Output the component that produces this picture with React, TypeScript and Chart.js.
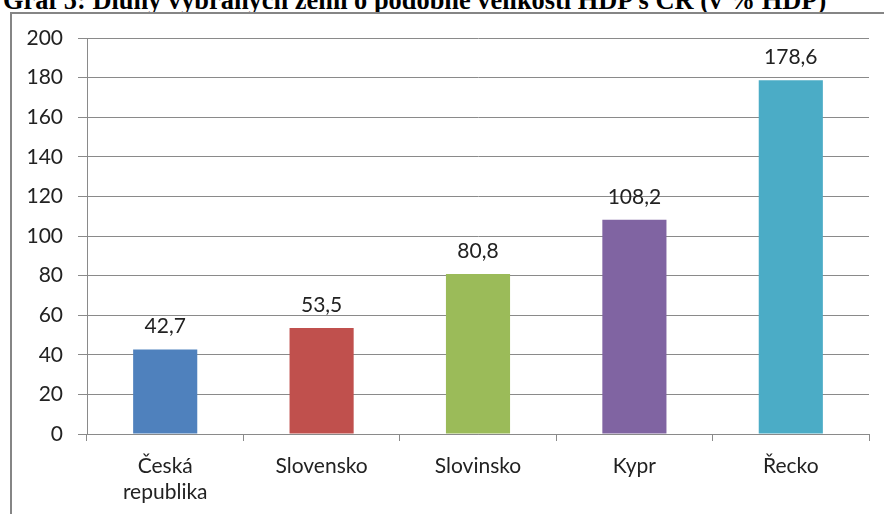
import React, { useEffect, useRef } from "react";
import { Chart, registerables } from "chart.js";

Chart.register(...registerables);

const titleText = "Graf 5: Dluhy vybraných zemí o podobné velikosti HDP s ČR (v % HDP)";
const categories: (string | string[])[] = [["Česká", "republika"], "Slovensko", "Slovinsko", "Kypr", "Řecko"];
const values = [42.7, 53.5, 80.8, 108.2, 178.6];
const valueLabels = ["42,7", "53,5", "80,8", "108,2", "178,6"];
const barColors = ["#4F81BD", "#C0504D", "#9BBB59", "#8064A2", "#4BACC6"];

const FONT = "Lato, 'Open Sans', sans-serif";
const FONT_SIZE = 21;
const TEXT_COLOR = "#222222";
const GRID_COLOR = "#8a8a8a";

const labelPlugin = {
  id: "valueLabels",
  afterDatasetsDraw(chart: any) {
    const ctx = chart.ctx;
    const meta = chart.getDatasetMeta(0);
    ctx.save();
    ctx.font = `${FONT_SIZE}px ${FONT}`;
    ctx.fillStyle = TEXT_COLOR;
    ctx.textAlign = "center";
    ctx.textBaseline = "middle";
    meta.data.forEach((bar: any, i: number) => {
      ctx.fillText(valueLabels[i], bar.x, bar.y - 23);
    });
    ctx.restore();
  },
};

export default function App() {
  const canvasRef = useRef<HTMLCanvasElement | null>(null);

  useEffect(() => {
    const canvas = canvasRef.current;
    if (!canvas) return;
    const chart = new Chart(canvas, {
      type: "bar",
      data: {
        labels: categories,
        datasets: [
          {
            data: values,
            backgroundColor: barColors,
            borderWidth: 0,
            categoryPercentage: 1,
            barPercentage: 0.41,
          },
        ],
      },
      options: {
        responsive: false,
        animation: false,
        devicePixelRatio: 1,
        layout: { padding: { left: 0, right: 15, top: 38, bottom: 0 } },
        plugins: {
          legend: { display: false },
          tooltip: { enabled: false },
          title: { display: false },
        },
        scales: {
          x: {
            afterFit: (scale: any) => {
              scale.height = 80;
            },
            grid: {
              offset: true,
              drawOnChartArea: false,
              drawTicks: true,
              tickLength: 7,
              color: GRID_COLOR,
            },
            border: { display: true, color: GRID_COLOR, width: 1 },
            ticks: {
              font: { family: FONT, size: FONT_SIZE, lineHeight: 1.2 },
              color: TEXT_COLOR,
              padding: 13,
              maxRotation: 0,
              autoSkip: false,
            },
          },
          y: {
            min: 0,
            max: 200,
            afterFit: (scale: any) => {
              scale.width = 87;
            },
            grid: {
              color: GRID_COLOR,
              drawTicks: true,
              tickLength: 9,
            },
            border: { display: true, color: GRID_COLOR, width: 1 },
            ticks: {
              stepSize: 20,
              font: { family: FONT, size: FONT_SIZE },
              color: TEXT_COLOR,
              padding: 15,
            },
          },
        },
      },
      plugins: [labelPlugin],
    });
    return () => chart.destroy();
  }, []);

  return (
    <div
      style={{
        position: "fixed",
        left: 0,
        top: 0,
        width: 884,
        height: 514,
        overflow: "hidden",
        background: "#ffffff",
      }}
    >
      <div
        style={{
          position: "absolute",
          left: 3,
          top: -13,
          lineHeight: "26px",
          fontFamily: "'Liberation Serif', 'Times New Roman', serif",
          fontWeight: "bold",
          fontSize: 26.4,
          color: "#000",
          whiteSpace: "nowrap",
        }}
      >
        {titleText}
      </div>
      <div
        style={{
          position: "absolute",
          left: 10,
          top: 12,
          width: 900,
          height: 600,
          border: "2px solid #858585",
          background: "#fff",
        }}
      />
      <canvas
        ref={canvasRef}
        width={884}
        height={514}
        style={{ position: "absolute", left: 0, top: 0, width: 884, height: 514 }}
      />
    </div>
  );
}
